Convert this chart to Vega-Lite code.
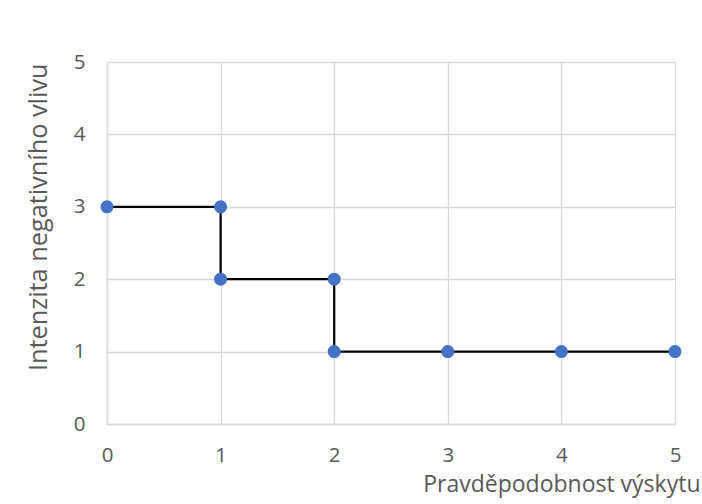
{
  "$schema": "https://vega.github.io/schema/vega-lite/v6.json",
  "width": 568,
  "height": 362,
  "autosize": "none",
  "padding": {"left": 107, "top": 62, "right": 27, "bottom": 80},
  "background": "white",
  "config": {
    "view": {"stroke": null},
    "font": "Open Sans"
  },
  "data": {
    "values": [
      {"order": 1, "p": 0, "i": 3},
      {"order": 2, "p": 1, "i": 3},
      {"order": 3, "p": 1, "i": 2},
      {"order": 4, "p": 2, "i": 2},
      {"order": 5, "p": 2, "i": 1},
      {"order": 6, "p": 3, "i": 1},
      {"order": 7, "p": 4, "i": 1},
      {"order": 8, "p": 5, "i": 1}
    ]
  },
  "encoding": {
    "x": {
      "field": "p", "type": "quantitative",
      "scale": {"domain": [0, 5], "nice": false, "zero": false},
      "axis": {
        "title": "Pravděpodobnost výskytu",
        "values": [0, 1, 2, 3, 4, 5],
        "format": "d",
        "grid": true, "gridColor": "#D9D9D9", "gridWidth": 1.3,
        "domainColor": "#D9D9D9", "domainWidth": 1.3,
        "ticks": false, "labelFlush": false,
        "labelFontSize": 20.5, "labelColor": "#595959", "labelPadding": 21,
        "titleFontSize": 23, "titleFontWeight": "normal", "titleColor": "#595959",
        "titleAnchor": "end", "titleAlign": "right", "titleBaseline": "alphabetic",
        "titleX": 593, "titleY": 67
      }
    },
    "y": {
      "field": "i", "type": "quantitative",
      "scale": {"domain": [0, 5], "nice": false, "zero": false},
      "axis": {
        "title": "Intenzita negativního vlivu",
        "values": [0, 1, 2, 3, 4, 5],
        "format": "d",
        "grid": true, "gridColor": "#D9D9D9", "gridWidth": 1.3,
        "domainColor": "#D9D9D9", "domainWidth": 1.3,
        "ticks": false, "labelFlush": false,
        "labelFontSize": 20.5, "labelColor": "#595959", "labelPadding": 22,
        "titleFontSize": 25.3, "titleFontWeight": "normal", "titleColor": "#595959",
        "titleAngle": -90, "titleAlign": "right", "titleBaseline": "alphabetic",
        "titleX": -61, "titleY": 1
      }
    },
    "order": {"field": "order", "type": "quantitative"}
  },
  "layer": [
    {"mark": {"type": "line", "color": "black", "strokeWidth": 2.2}},
    {"mark": {"type": "point", "filled": true, "opacity": 1, "color": "#4472C4", "size": 170}}
  ]
}
